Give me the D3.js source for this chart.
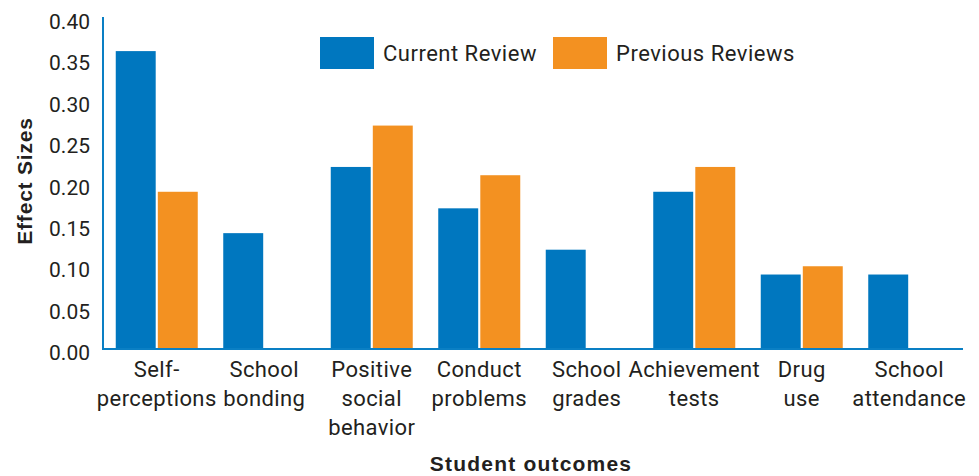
<!DOCTYPE html>
<html><head><meta charset="utf-8">
<script src="https://cdn.jsdelivr.net/npm/d3@7"></script>
<style>body{margin:0;background:#fff}svg{display:block}text{font-family:Roboto,"Liberation Sans",sans-serif;fill:#231f20}</style>
</head><body><svg id="c" width="979" height="476"></svg>
<script>
const categories = [["Self-","perceptions"],["School","bonding"],["Positive","social","behavior"],["Conduct","problems"],["School","grades"],["Achievement","tests"],["Drug","use"],["School","attendance"]];
const seriesNames = ["Current Review","Previous Reviews"];
const currentReview = [0.36,0.14,0.22,0.17,0.12,0.19,0.09,0.09];
const previousReviews = [0.19,null,0.27,0.21,null,0.22,0.10,null];
const yTicks = [0,0.05,0.10,0.15,0.20,0.25,0.30,0.35,0.40];
const colors = ["#0077bf","#f39121"];

const svg = d3.select("#c");
const m = {l:103, r:16, t:18, b:127};
const W = 979, H = 476;
const x = d3.scaleBand().domain(d3.range(categories.length)).range([m.l, W-m.r]).paddingInner(0).paddingOuter(0);
const x1 = d3.scaleBand().domain([0,1]).range([12.75, x.bandwidth()-12.75]).paddingInner(0.05);
const y = d3.scaleLinear().domain([0,0.40]).range([H-m.b, m.t]);

const series = [currentReview, previousReviews];
const g = svg.append("g");
series.forEach((vals, si) => {
  g.selectAll(null).data(vals.map((v,i)=>({v,i})).filter(d=>d.v!=null)).enter().append("rect")
    .attr("x", d=>x(d.i)+x1(si)).attr("width", x1.bandwidth())
    .attr("y", d=>y(d.v)).attr("height", d=>y(0)-y(d.v)+(si===1?1:0))
    .attr("fill", colors[si]);
});

// axes lines
svg.append("line").attr("x1",m.l).attr("x2",m.l).attr("y1",y(0.40)-1).attr("y2",y(0)+1).attr("stroke","#0a7fc4").attr("stroke-width",2);
svg.append("line").attr("x1",m.l).attr("x2",W-m.r).attr("y1",y(0)).attr("y2",y(0)).attr("stroke","#0a7fc4").attr("stroke-width",2);

// y tick labels
const ya = d3.axisLeft(y).tickValues(yTicks).tickFormat(d3.format(".2f")).tickSize(0).tickPadding(13);
const yg = svg.append("g").attr("transform",`translate(${m.l},0)`).call(ya);
yg.select(".domain").remove();
yg.selectAll("text").attr("font-size",21).attr("dy","0.5em").style("font-family","Roboto, sans-serif").attr("fill","#231f20");

// x labels
categories.forEach((lines,i)=>{
  const t = svg.append("text").attr("x", x(i)+x.bandwidth()/2).attr("y", 377).attr("text-anchor","middle").attr("font-size",22).attr("letter-spacing","0.4px");
  lines.forEach((ln,j)=>t.append("tspan").attr("x", x(i)+x.bandwidth()/2).attr("dy", j===0?0:29).text(ln));
});

// titles
svg.append("text").attr("x", 531).attr("y", 471).attr("text-anchor","middle").attr("font-size",21).attr("font-weight","bold").attr("letter-spacing","1.2px").style("font-family","'Liberation Sans', Arial, sans-serif").text("Student outcomes");
svg.append("text").attr("transform","translate(32,181) rotate(-90)").attr("text-anchor","middle").attr("font-size",21).attr("font-weight","bold").attr("letter-spacing","0.8px").style("font-family","'Liberation Sans', Arial, sans-serif").text("Effect Sizes");

// legend
const leg = [{x:320},{x:553}];
seriesNames.forEach((n,i)=>{
  svg.append("rect").attr("x",leg[i].x).attr("y",37).attr("width",54).attr("height",32).attr("fill",colors[i]);
  svg.append("text").attr("x",leg[i].x+63).attr("y",61).attr("font-size",22).attr("letter-spacing","0.5px").text(n);
});
</script></body></html>
